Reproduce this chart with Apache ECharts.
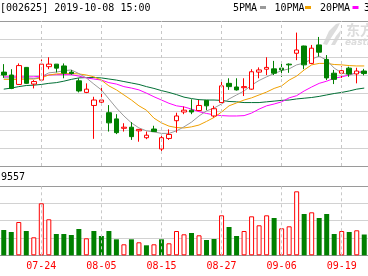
<!DOCTYPE html>
<html><head><meta charset="utf-8">
<script src="https://cdn.jsdelivr.net/npm/echarts@6/dist/echarts.min.js"></script>
<style>html,body{margin:0;padding:0;background:#fff}#c{width:368px;height:276px}</style>
</head><body><div id="c"></div>
<script>
const dates = ['07-17','07-18','07-19','07-22','07-23','07-24','07-25','07-26','07-29','07-30','07-31','08-01','08-02','08-05','08-06','08-07','08-08','08-09','08-12','08-13','08-14','08-15','08-16','08-19','08-20','08-21','08-22','08-23','08-26','08-27','08-28','08-29','08-30','09-02','09-03','09-04','09-05','09-06','09-09','09-10','09-11','09-12','09-16','09-17','09-18','09-19','09-20','09-23','09-24'];
const opens  = [16.59,16.51,16.25,16.72,16.26,16.37,16.74,16.81,16.76,16.59,16.35,16.03,15.67,15.76,15.47,15.30,15.04,15.07,14.97,14.78,15.02,14.47,14.76,15.25,15.49,15.54,15.53,15.81,15.38,15.75,16.28,16.18,16.16,16.12,16.59,16.67,16.68,16.70,16.81,17.11,17.31,16.83,17.34,16.94,16.56,16.56,16.70,16.54,16.62];
const closes = [16.51,16.14,16.77,16.28,16.33,16.81,16.81,16.70,16.56,16.55,16.07,16.12,15.82,15.82,15.19,14.92,15.07,14.81,15.01,14.85,14.95,14.78,14.87,15.38,15.54,15.49,15.67,15.66,15.58,16.21,16.19,16.10,16.19,16.60,16.65,16.72,16.56,16.65,16.79,17.20,16.79,17.25,17.14,16.43,16.39,16.63,16.54,16.62,16.55];
const lows   = [16.43,16.12,16.24,16.26,16.14,16.35,16.67,16.58,16.42,16.52,16.03,16.01,14.75,15.66,14.95,14.88,14.95,14.72,14.67,14.74,14.94,14.37,14.72,14.92,15.43,15.43,15.52,15.54,15.34,15.73,16.10,16.08,15.93,16.10,16.42,16.51,16.51,16.46,16.57,16.92,16.67,16.81,17.02,16.37,16.26,16.43,16.46,16.28,16.50];
const highs  = [16.81,16.67,16.83,16.73,16.37,16.94,17.00,16.81,16.83,16.65,16.42,16.28,15.91,16.17,15.68,15.43,15.18,15.21,15.02,14.95,15.11,14.90,15.01,15.47,15.64,15.84,15.82,15.82,15.66,16.37,16.42,16.42,16.42,16.67,16.72,17.00,16.90,16.83,16.83,17.68,17.32,17.34,17.56,17.06,16.65,16.75,16.74,16.71,16.68];
const ma5  = [16.43,16.43,16.43,16.43,16.41,16.46,16.57,16.59,16.63,16.65,16.55,16.43,16.26,16.10,15.85,15.60,15.38,15.19,15.05,14.97,14.94,14.90,14.90,14.97,15.08,15.21,15.38,15.52,15.60,15.71,15.85,15.96,16.07,16.23,16.36,16.46,16.55,16.63,16.68,16.79,16.84,16.95,17.03,16.92,16.70,16.57,16.51,16.57,16.59];
const ma10 = [16.39,16.39,16.39,16.40,16.40,16.43,16.51,16.54,16.55,16.55,16.54,16.51,16.46,16.37,16.21,16.10,15.96,15.82,15.66,15.54,15.32,15.19,15.10,15.06,15.05,15.08,15.13,15.23,15.34,15.49,15.66,15.74,15.82,15.88,15.96,16.04,16.14,16.21,16.37,16.48,16.65,16.79,16.83,16.83,16.80,16.79,16.77,16.76,16.76];
const ma20 = [16.46,16.46,16.46,16.46,16.46,16.48,16.51,16.52,16.52,16.52,16.48,16.43,16.40,16.37,16.30,16.26,16.19,16.15,16.10,16.01,15.91,15.82,15.73,15.66,15.63,15.57,15.50,15.45,15.41,15.39,15.38,15.38,15.39,15.46,15.57,15.66,15.71,15.77,15.88,15.94,16.07,16.18,16.28,16.34,16.42,16.46,16.51,16.58,16.62];
const ma30 = [16.12,16.15,16.19,16.22,16.23,16.25,16.28,16.30,16.34,16.39,16.43,16.44,16.44,16.43,16.40,16.37,16.33,16.29,16.25,16.19,16.14,16.08,16.03,15.97,15.90,15.86,15.83,15.82,15.82,15.81,15.78,15.77,15.75,15.75,15.75,15.77,15.79,15.81,15.82,15.85,15.87,15.89,15.92,15.96,16.00,16.03,16.07,16.12,16.15];
const volumes = [14600,13450,19220,14020,10390,30000,20780,12290,12290,11710,15180,9810,14020,11140,14020,9230,6350,9230,7500,5770,6350,9230,6920,14020,12120,12870,11540,8830,9410,23080,16330,11140,14020,22500,17310,23080,21530,15580,16730,36930,23830,24810,21530,23830,12290,14020,13450,14430,12000];
const volumeUp = [0,0,1,0,1,1,1,0,0,0,0,1,0,0,0,0,1,0,1,0,1,0,1,1,1,0,1,0,0,1,0,0,1,1,1,1,0,1,1,1,0,1,0,0,0,1,0,1,0];
const tickLabels = ['07-24','08-05','08-15','08-27','09-06','09-19'];
const maNames = ['5PMA','10PMA','20PMA','30PMA'];

const RED = '#ff0000', GREEN = '#008000';
const MA_COLORS = ['#9a9a9a', '#f0a000', '#ff00ff', '#006f35'];
const DARK = '#9a9a9a', LIGHT = '#d2d2d2';
const FONT = 'DejaVu Sans Mono';
const WM = '#dcdcdc';

const chart = echarts.init(document.getElementById('c'), null, {renderer: 'canvas'});
const gridLeft = -2.85, gridWidth = 377.3;
const candleData = dates.map((d, i) => [opens[i], closes[i], lows[i], highs[i]]);
const volData = volumes.map((v, i) => ({
  value: v,
  itemStyle: volumeUp[i] ? {color: '#fff', borderColor: RED, borderWidth: 1} : {color: GREEN, borderColor: GREEN, borderWidth: 0}
}));
const vLines = tickLabels.map(t => ({xAxis: t}));
const markLineStyle = {symbol: ['none', 'none'], silent: true, label: {show: false},
  lineStyle: {color: '#c8c8c8', type: [3, 3], width: 1}, data: vLines, animation: false};

const hiddenAxis = {axisLine: {show: false}, axisTick: {show: false}, axisLabel: {show: false}};

const option = {
  animation: false,
  grid: [
    {left: gridLeft, width: gridWidth, top: 21, height: 145},
    {left: gridLeft, width: gridWidth, top: 186, height: 69.3}
  ],
  xAxis: [
    Object.assign({type: 'category', data: dates, gridIndex: 0, boundaryGap: true, splitLine: {show: false}}, hiddenAxis),
    {type: 'category', data: dates, gridIndex: 1, boundaryGap: true, splitLine: {show: false},
     axisLine: {show: false}, axisTick: {show: false},
     axisLabel: {show: true, interval: (i, v) => tickLabels.includes(v), color: RED, fontFamily: FONT, fontSize: 10, margin: 6}}
  ],
  yAxis: [
    Object.assign({type: 'value', gridIndex: 0, min: 14, max: 18, interval: 0.5,
      splitLine: {show: true, lineStyle: {color: [DARK, LIGHT, LIGHT, LIGHT, LIGHT, LIGHT, LIGHT, LIGHT, DARK], width: 1}}}, hiddenAxis),
    Object.assign({type: 'value', gridIndex: 1, min: 0, max: 40000, interval: 10000,
      splitLine: {show: true, lineStyle: {color: [DARK, LIGHT, LIGHT, LIGHT, DARK], width: 1}}}, hiddenAxis)
  ],
  series: [
    {type: 'candlestick', xAxisIndex: 0, yAxisIndex: 0, data: candleData, barWidth: 5,
     itemStyle: {color: '#ffffff', color0: GREEN, borderColor: RED, borderColor0: GREEN, borderWidth: 1},
     markLine: markLineStyle, z: 3},
    ...[ma5, ma10, ma20, ma30].map((d, k) => ({
      type: 'line', name: maNames[k], xAxisIndex: 0, yAxisIndex: 0, data: d, showSymbol: false, symbol: 'none',
      lineStyle: {color: MA_COLORS[k], width: 1}, z: 2 - k * 0.1
    })),
    {type: 'bar', xAxisIndex: 1, yAxisIndex: 1, data: volData, barWidth: 5, markLine: markLineStyle}
  ],
  graphic: [
    // watermark
    {type: 'polygon', z: 0, shape: {points: [[323,44],[329,31],[336,24],[340,23],[337,29],[331,38],[327,45]]}, style: {fill: WM}},
    {type: 'polygon', z: 0, shape: {points: [[331,45],[336,36],[341,30],[340,36],[335,45]]}, style: {fill: WM}},
    {type: 'text', z: 0, left: 346, top: 23, style: {text: '东方财富', font: 'bold 14px "Noto Sans CJK SC"', fill: WM}},
    {type: 'text', z: 0, left: 345, top: 38, style: {text: 'eastmoney', font: 'italic bold 9px "DejaVu Sans"', fill: WM}},
    // title + legend
    {type: 'text', left: 0, top: 3, style: {text: '[002625] 2019-10-08 15:00', font: '10px ' + FONT, fill: '#000'}},
    {type: 'text', left: 233, top: 3, style: {text: maNames[0], font: '10px ' + FONT, fill: '#000'}},
    {type: 'rect', left: 260, top: 6, shape: {width: 6, height: 3}, style: {fill: MA_COLORS[0]}},
    {type: 'text', left: 274.5, top: 3, style: {text: maNames[1], font: '10px ' + FONT, fill: '#000'}},
    {type: 'rect', left: 305, top: 6, shape: {width: 6, height: 3}, style: {fill: MA_COLORS[1]}},
    {type: 'text', left: 320, top: 3, style: {text: maNames[2], font: '10px ' + FONT, fill: '#000'}},
    {type: 'rect', left: 352.5, top: 6, shape: {width: 6, height: 3}, style: {fill: MA_COLORS[2]}},
    {type: 'text', left: 364, top: 3, style: {text: maNames[3], font: '10px ' + FONT, fill: '#000'}},
    {type: 'text', left: 1, top: 172, style: {text: '9557', font: '10px ' + FONT, fill: '#000'}}
  ]
};
chart.setOption(option);
</script></body></html>
